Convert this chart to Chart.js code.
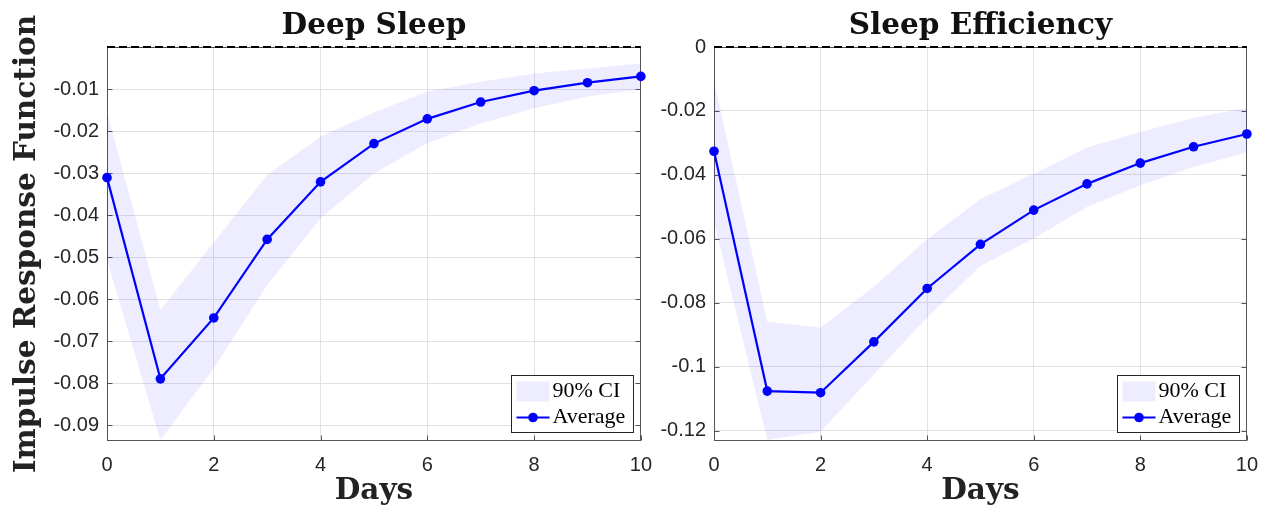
<!DOCTYPE html>
<html>
<head>
<meta charset="utf-8">
<script src="https://cdn.jsdelivr.net/npm/chart.js@4.4.1/dist/chart.umd.min.js"></script>
<style>
  html, body { margin: 0; padding: 0; background: #fff; }
  #wrap { position: relative; width: 1266px; height: 510px; overflow: hidden; }
  #c1 { position: absolute; left: 0; top: 0; }
  #c2 { position: absolute; left: 650px; top: 0; }
</style>
</head>
<body>
<div id="wrap">
  <canvas id="c1" width="664" height="510"></canvas>
  <canvas id="c2" width="620" height="510"></canvas>
</div>
<script>
// --- données ---
const days = [0, 1, 2, 3, 4, 5, 6, 7, 8, 9, 10];
const xTicks = [0, 2, 4, 6, 8, 10];

const deepAvg   = [-0.0311, -0.0790, -0.0645, -0.0458, -0.0321, -0.0230, -0.0171, -0.0131, -0.0104, -0.0085, -0.0070];
const deepUpper = [-0.0154, -0.0626, -0.0465, -0.0305, -0.0213, -0.0156, -0.0106, -0.0083, -0.0063, -0.0051, -0.0039];
const deepLower = [-0.0507, -0.0936, -0.0765, -0.0567, -0.0408, -0.0301, -0.0229, -0.0182, -0.0146, -0.0118, -0.0101];
const deepTicks = [-0.09, -0.08, -0.07, -0.06, -0.05, -0.04, -0.03, -0.02, -0.01];

const effAvg   = [-0.0326, -0.1076, -0.1081, -0.0922, -0.0755, -0.0617, -0.0510, -0.0428, -0.0363, -0.0312, -0.0272];
const effUpper = [-0.0104, -0.0859, -0.0877, -0.0750, -0.0601, -0.0475, -0.0396, -0.0314, -0.0266, -0.0221, -0.0191];
const effLower = [-0.0547, -0.1229, -0.1203, -0.1024, -0.0846, -0.0685, -0.0599, -0.0500, -0.0432, -0.0375, -0.0330];
const effTicks = [-0.12, -0.1, -0.08, -0.06, -0.04, -0.02, 0];

const zeroLine = days.map(() => 0);

const BLUE = '#0000ff';
const CI_FILL = 'rgba(0,0,255,0.07)';
const AXIS = '#555555';
const TICK_FONT = { family: '"Liberation Sans", Arial, sans-serif', size: 20 };
const BOLD_SERIF = { family: '"DejaVu Serif", serif', size: 29.5, weight: 'bold' };

function xy(vals) { return days.map((d, i) => ({ x: d, y: vals[i] })); }
function fmt(v) { return Math.abs(v) < 1e-9 ? '0' : String(Number(v.toFixed(3))); }

// cadre + graduations vers l'intérieur (style MATLAB)
const boxPlugin = {
  id: 'boxFrame',
  beforeDatasetsDraw(chart) {
    const { ctx, chartArea: a, scales } = chart;
    const L = Math.round(a.left) + 0.5, R = Math.round(a.right) - 0.5;
    const T = Math.round(a.top) + 0.5, B = Math.round(a.bottom) - 0.5;
    ctx.save();
    ctx.strokeStyle = AXIS;
    ctx.lineWidth = 1;
    ctx.strokeRect(L, T, R - L, B - T);
    ctx.beginPath();
    scales.y.ticks.forEach(t => {
      const y = Math.round(scales.y.getPixelForValue(t.value)) + 0.5;
      ctx.moveTo(L, y); ctx.lineTo(L + 5, y);
      ctx.moveTo(R, y); ctx.lineTo(R - 5, y);
    });
    scales.x.ticks.forEach(t => {
      const x = Math.round(scales.x.getPixelForValue(t.value)) + 0.5;
      ctx.moveTo(x, B); ctx.lineTo(x, B - 5);
    });
    ctx.stroke();
    ctx.restore();
  }
};

// légende encadrée en bas à droite
const legendPlugin = {
  id: 'boxLegend',
  afterDatasetsDraw(chart) {
    const { ctx, chartArea: a } = chart;
    const ci = chart.data.datasets[1], avg = chart.data.datasets[2];
    const w = 122, h = 57;
    const x0 = Math.round(a.right - 8 - w) + 0.5, y0 = Math.round(a.bottom - 9 - h) + 0.5;
    ctx.save();
    ctx.fillStyle = '#fff';
    ctx.fillRect(x0, y0, w, h);
    ctx.strokeStyle = '#262626';
    ctx.lineWidth = 1;
    ctx.strokeRect(x0, y0, w, h);
    ctx.fillStyle = ci.backgroundColor;
    ctx.fillRect(x0 + 5, y0 + 6, 33, 20);
    const ly = y0 + 42;
    ctx.strokeStyle = avg.borderColor;
    ctx.lineWidth = 2;
    ctx.beginPath(); ctx.moveTo(x0 + 5, ly); ctx.lineTo(x0 + 38, ly); ctx.stroke();
    ctx.fillStyle = avg.borderColor;
    ctx.beginPath(); ctx.arc(x0 + 21.5, ly, 4.8, 0, Math.PI * 2); ctx.fill();
    ctx.fillStyle = '#000';
    ctx.font = '22px "Liberation Serif", serif';
    ctx.textBaseline = 'middle';
    ctx.textAlign = 'left';
    ctx.fillText(ci.label, x0 + 41, y0 + 16);
    ctx.fillText(avg.label, x0 + 41, ly);
    ctx.restore();
  }
};

function makeChart(id, title, avg, upper, lower, yMin, yTicks, yTitle, axisWidth, padRight) {
  return new Chart(document.getElementById(id), {
    type: 'line',
    data: {
      datasets: [
        { label: 'upper', data: xy(upper), borderWidth: 0, pointRadius: 0, fill: false, order: 3 },
        { label: '90% CI', data: xy(lower), borderWidth: 0, pointRadius: 0, fill: '-1', backgroundColor: CI_FILL, order: 2 },
        { label: 'Average', data: xy(avg), borderColor: BLUE, backgroundColor: BLUE, borderWidth: 2.2,
          pointRadius: 4.8, pointBackgroundColor: BLUE, pointBorderWidth: 0, pointHoverRadius: 4.8, order: 0, clip: 6 },
        { label: 'zero', data: xy(zeroLine), borderColor: '#000', borderWidth: 2, borderDash: [8, 4],
          pointRadius: 0, order: 1, clip: 4 }
      ]
    },
    options: {
      responsive: false, animation: false, events: [],
      layout: { padding: { left: 0, right: padRight, top: 0, bottom: 0 } },
      scales: {
        x: {
          type: 'linear', min: 0, max: 10,
          border: { display: false },
          grid: { color: '#e2e2e2', lineWidth: 1, drawTicks: false },
          ticks: { stepSize: 2, padding: 12, color: '#262626', font: TICK_FONT, maxRotation: 0 },
          afterBuildTicks: s => { s.ticks = xTicks.map(v => ({ value: v })); },
          afterFit: s => { s.height = 69; },
          title: { display: true, text: 'Days', color: '#222', font: BOLD_SERIF, padding: { top: 0, bottom: 1 } }
        },
        y: {
          type: 'linear', min: yMin, max: 0,
          border: { display: false },
          grid: { color: '#e2e2e2', lineWidth: 1, drawTicks: false },
          ticks: { padding: 8, color: '#262626', font: TICK_FONT, autoSkip: false, callback: v => fmt(v) },
          afterBuildTicks: s => { s.ticks = yTicks.map(v => ({ value: v })); },
          afterFit: s => { s.width = axisWidth; },
          title: { display: !!yTitle, text: yTitle, color: '#222', font: BOLD_SERIF, padding: { top: 10, bottom: 0 } }
        }
      },
      plugins: {
        legend: { display: false },
        tooltip: { enabled: false },
        title: { display: true, text: title, color: '#111', font: BOLD_SERIF, fullSize: false,
                 padding: { top: 9, bottom: 2.6 } }
      }
    },
    plugins: [boxPlugin, legendPlugin]
  });
}

makeChart('c1', 'Deep Sleep', deepAvg, deepUpper, deepLower, -0.0938, deepTicks, 'Impulse Response Function', 107, 20);
makeChart('c2', 'Sleep Efficiency', effAvg, effUpper, effLower, -0.1232, effTicks, '', 64, 20);
</script>
</body>
</html>
